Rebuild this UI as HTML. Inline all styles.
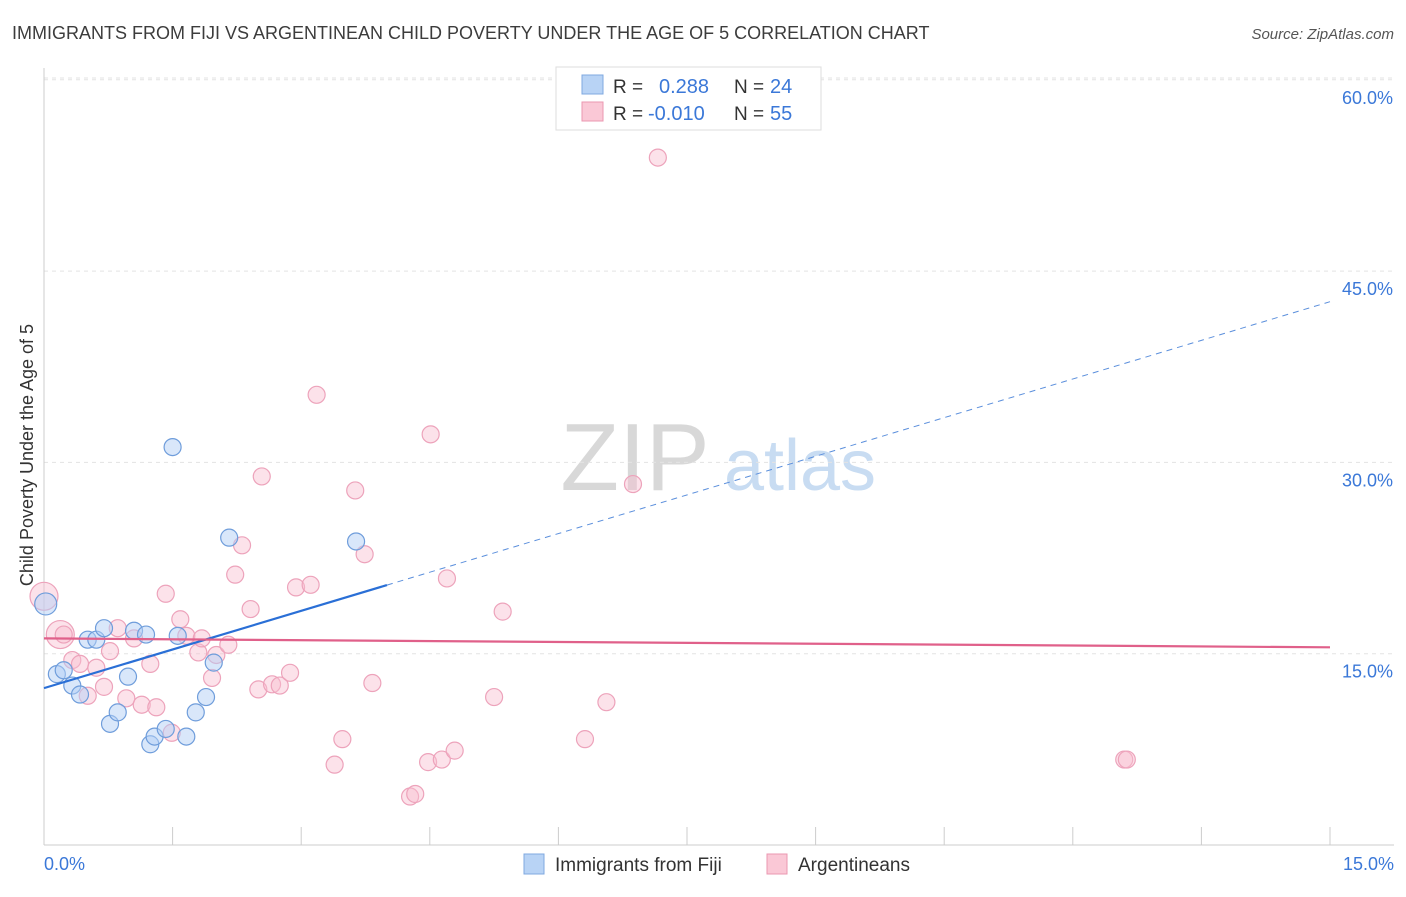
<!DOCTYPE html>
<html><head><meta charset="utf-8">
<style>
body{margin:0;background:#fff;font-family:"Liberation Sans",sans-serif;}
svg text{font-family:"Liberation Sans",sans-serif;}
</style></head>
<body>
<svg id="chart" width="1406" height="892" xmlns="http://www.w3.org/2000/svg">
<text x="12" y="39" font-size="18" fill="#3c3c3c">IMMIGRANTS FROM FIJI VS ARGENTINEAN CHILD POVERTY UNDER THE AGE OF 5 CORRELATION CHART</text>
<text x="1394" y="39" font-size="15" fill="#555" text-anchor="end" font-style="italic">Source: ZipAtlas.com</text>
<g>
<text x="635" y="490" font-size="96" fill="#d8d8d8" font-family="Liberation Serif" text-anchor="middle">ZIP</text>
<text x="800" y="490" font-size="72" fill="#c8dcf2" text-anchor="middle">atlas</text>
</g>
<g id="grid"></g>
<g id="axes"></g>
<g id="marks"></g>
<text transform="translate(33,455) rotate(-90)" font-size="18" fill="#333" text-anchor="middle">Child Poverty Under the Age of 5</text>
<g>
<rect x="556" y="67" width="265" height="63" fill="#fff" stroke="#ddd"/>
<rect x="582" y="75" width="21" height="19" fill="#b8d3f5" stroke="#7fa8e0"/>
<rect x="582" y="102" width="21" height="19" fill="#fac8d6" stroke="#eb97b0"/>
<text x="613" y="93" font-size="19" fill="#333">R =</text>
<text x="659" y="93" font-size="20" fill="#3b78d8">0.288</text>
<text x="734" y="93" font-size="19" fill="#333">N =</text>
<text x="770" y="93" font-size="20" fill="#3b78d8">24</text>
<text x="613" y="120" font-size="19" fill="#333">R =</text>
<text x="648" y="120" font-size="20" fill="#3b78d8">-0.010</text>
<text x="734" y="120" font-size="19" fill="#333">N =</text>
<text x="770" y="120" font-size="20" fill="#3b78d8">55</text>
</g>
<g>
<rect x="524" y="854" width="20" height="20" fill="#b8d3f5" stroke="#7fa8e0"/>
<text x="555" y="871" font-size="19" fill="#333">Immigrants from Fiji</text>
<rect x="767" y="854" width="20" height="20" fill="#fac8d6" stroke="#eb97b0"/>
<text x="798" y="871" font-size="19" fill="#333">Argentineans</text>
</g>
</svg>
<script>
const xTicks=[0,1.5,3,4.5,6,7.5,9,10.5,12,13.5,15];
const yTicks=[15,30,45,60];
const yTickLabels=["15.0%","30.0%","45.0%","60.0%"];
const fijiX=[0.02,0.15,0.23,0.33,0.42,0.51,0.61,0.70,0.77,0.86,0.98,1.05,1.19,1.24,1.29,1.42,1.50,1.56,1.66,1.77,1.89,1.98,2.16,3.64];
const fijiY=[18.9,13.4,13.7,12.5,11.8,16.1,16.1,17.0,9.5,10.4,13.2,16.8,16.5,7.9,8.5,9.1,31.2,16.4,8.5,10.4,11.6,14.3,24.1,23.8];
const argX=[0,0.19,0.23,0.33,0.42,0.51,0.61,0.70,0.77,0.86,0.96,1.05,1.14,1.24,1.31,1.42,1.49,1.59,1.66,1.80,1.84,1.96,2.01,2.15,2.23,2.31,2.41,2.50,2.54,2.66,2.75,2.87,2.94,3.11,3.18,3.39,3.48,3.63,3.74,3.83,4.27,4.33,4.48,4.51,4.64,4.70,4.79,5.25,5.35,6.31,6.56,6.87,7.16,12.60,12.63];
const argY=[19.5,16.5,16.5,14.5,14.2,11.7,13.9,12.4,15.2,17.0,11.5,16.2,11.0,14.2,10.8,19.7,8.8,17.7,16.4,15.1,16.2,13.1,14.9,15.7,21.2,23.5,18.5,12.2,28.9,12.6,12.5,13.5,20.2,20.4,35.3,6.3,8.3,27.8,22.8,12.7,3.8,4.0,6.5,32.2,6.7,20.9,7.4,11.6,18.3,8.3,11.2,28.3,53.9,6.7,6.7];
const fijiTrend=[12.3,42.6]; const fijiSolidEnd=4.0;
const argTrend=[16.2,15.5];
const NS="http://www.w3.org/2000/svg";
const X=v=>44+v/15*1286, Y=v=>845-v/15*191.3;
function mk(tag,attrs,parent){const e=document.createElementNS(NS,tag);for(const k in attrs)e.setAttribute(k,attrs[k]);document.getElementById(parent).appendChild(e);return e;}
yTicks.forEach((t,i)=>{
 const l=mk('line',{x1:44,x2:1394,y1:Y(t),y2:Y(t),stroke:'#e3e3e3','stroke-dasharray':'4,4'},'grid');
 
 
 const tx=mk('text',{x:1393,y:Y(t)+24,'font-size':18,fill:'#3b78d8','text-anchor':'end'},'axes');
 tx.textContent=yTickLabels[i];
 
 
});
const tl=mk('line',{x1:44,x2:1394,y1:78,y2:78,stroke:'#e3e3e3','stroke-dasharray':'4,4'},'grid');


const ax=mk('line',{x1:44,x2:1394,y1:845,y2:845,stroke:'#ccc'},'axes');


const ay=mk('line',{x1:44,x2:44,y1:68,y2:845,stroke:'#ccc'},'axes');


xTicks.forEach(t=>{const l=mk('line',{x1:X(t),x2:X(t),y1:827,y2:845,stroke:'#ccc'},'axes');
 
 });
const x0=mk('text',{x:44,y:870,'font-size':18,fill:'#3b78d8'},'axes');x0.textContent='0.0%';


const x1=mk('text',{x:1394,y:870,'font-size':18,fill:'#3b78d8','text-anchor':'end'},'axes');x1.textContent='15.0%';


argX.forEach((v,i)=>{const r=(i<2)?14:8.5;const c=mk('circle',{cx:X(v),cy:Y(argY[i]),r:r,fill:'rgba(248,190,208,0.45)',stroke:'#eda3bb','stroke-width':1.2},'marks');
 
 });
fijiX.forEach((v,i)=>{const r=(i==0)?11:8.5;const c=mk('circle',{cx:X(v),cy:Y(fijiY[i]),r:r,fill:'rgba(180,208,245,0.5)',stroke:'#6f9ddb','stroke-width':1.2},'marks');
 
 });
const fy=v=>fijiTrend[0]+(fijiTrend[1]-fijiTrend[0])*v/15;
const f1=mk('line',{x1:X(0),y1:Y(fy(0)),x2:X(fijiSolidEnd),y2:Y(fy(fijiSolidEnd)),stroke:'#2a6fd6','stroke-width':2.2},'marks');


const f2=mk('line',{x1:X(fijiSolidEnd),y1:Y(fy(fijiSolidEnd)),x2:X(15),y2:Y(fy(15)),stroke:'#5b8fdc','stroke-width':1,'stroke-dasharray':'6,5'},'marks');


const a1=mk('line',{x1:X(0),y1:Y(argTrend[0]),x2:X(15),y2:Y(argTrend[1]),stroke:'#e0608a','stroke-width':2.2},'marks');


</script>
</body></html>
